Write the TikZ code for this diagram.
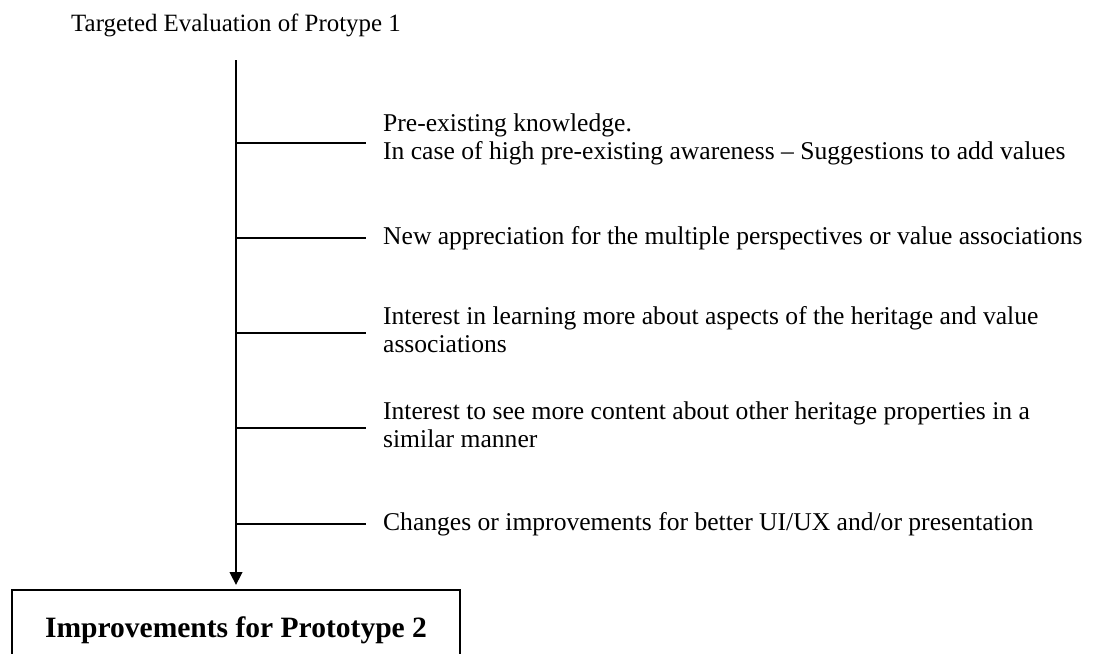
\documentclass[tikz,border=0pt]{standalone}
\usepackage{fontspec}
\setmainfont{Liberation Serif}
\usetikzlibrary{positioning,arrows.meta}

\begin{document}
\begin{tikzpicture}[x=0.025cm, y=-0.025cm,
    item/.style = {anchor=west, align=left, inner xsep=12pt,
      font=\fontsize{18.2}{20}\selectfont},
    tick/.style = {line width=0.8pt},
    result/.style = {draw, line width=1.3pt, minimum width=11.2cm,
      minimum height=2cm, font=\fontsize{21}{25}\bfseries}]
  \useasboundingbox (0,0) rectangle (1108,653);

  \node[font=\fontsize{17.7}{20}\selectfont] (title) at (236,25) {Targeted Evaluation of Protype 1};
  \node[result] (impr) at (236,630) {Improvements for Prototype 2};
  \coordinate (top) at (236,60);

  \node[item] (i1) at (366,139) {Pre-existing knowledge.\\In case of high pre-existing awareness -- Suggestions to add values};
  \node[item] (i2) at (366,238) {New appreciation for the multiple perspectives or value associations};
  \node[item] (i3) at (366,330) {Interest in learning more about aspects of the heritage and value\\associations};
  \node[item] (i4) at (366,425) {Interest to see more content about other heritage properties in a\\similar manner};
  \node[item] (i5) at (366,524) {Changes or improvements for better UI/UX and/or presentation};

  \draw[line width=1pt, -{Triangle[width=9pt,length=9pt]}, shorten >=3pt] (top) -- (impr.north);
  \foreach \i/\y in {1/143, 2/238, 3/333, 4/428, 5/524}
    \draw[tick] (236,\y) -- (366,\y);
\end{tikzpicture}
\end{document}
